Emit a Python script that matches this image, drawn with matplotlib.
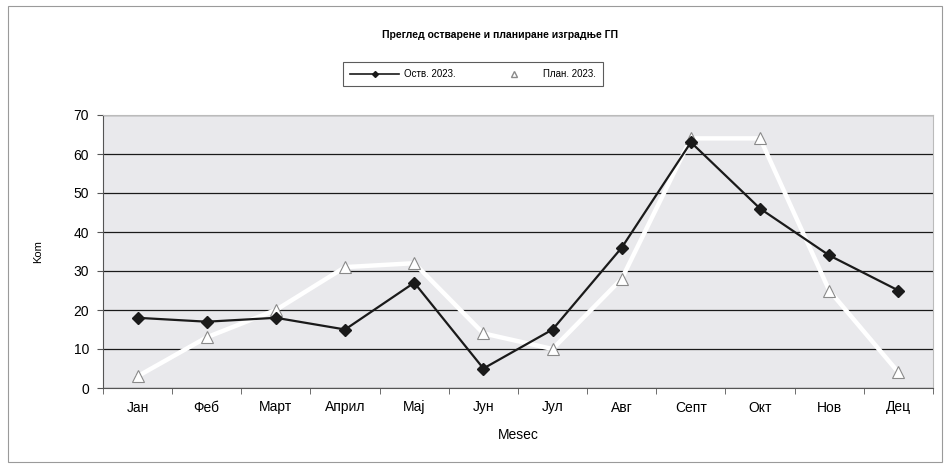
import matplotlib
matplotlib.use("Agg")
import matplotlib.pyplot as plt
from matplotlib.lines import Line2D
from matplotlib.patches import Rectangle

plt.rcParams['font.family'] = ['Liberation Sans', 'DejaVu Sans']

months = ["Јан", "Феб", "Март", "Април", "Мај", "Јун", "Јул", "Авг", "Септ", "Окт", "Нов", "Дец"]
actual_2023 = [18, 17, 18, 15, 27, 5, 15, 36, 63, 46, 34, 25]
plan_2023 = [3, 13, 20, 31, 32, 14, 10, 28, 64, 64, 25, 4]

fig = plt.figure(figsize=(9.45, 4.68), dpi=100)
fig.patches.append(Rectangle((8 / 945, 6 / 468), 934 / 945, 456 / 468, transform=fig.transFigure,
                             fill=False, edgecolor="#9a9a9a", linewidth=0.8))

ax = fig.add_axes([103 / 945, 80 / 468, 830 / 945, 273 / 468])
ax.set_facecolor("#e9e9ec")
x = list(range(len(months)))

ax.plot(x, plan_2023, color="white", linewidth=3.2, marker="^", markersize=9,
        markerfacecolor="white", markeredgecolor="#8a8a8a", markeredgewidth=0.8, zorder=3)
ax.plot(x, actual_2023, color="#1a1a1a", linewidth=1.6, marker="D", markersize=6.5,
        markerfacecolor="#1a1a1a", markeredgecolor="#1a1a1a", zorder=4)

ax.set_xlim(-0.5, len(months) - 0.5)
ax.set_ylim(0, 70)
ax.set_yticks(range(0, 71, 10))
ax.yaxis.grid(True, color="#1a1a1a", linewidth=0.9)
ax.set_axisbelow(True)

ax.set_xticks(x)
ax.set_xticklabels(months, fontsize=10)
ax.set_xticks([i - 0.5 for i in range(len(months) + 1)], minor=True)
ax.tick_params(axis="x", which="major", length=0, pad=9)
ax.tick_params(axis="x", which="minor", length=4, direction="out", color="#555555")
ax.tick_params(axis="y", length=4, labelsize=10, color="#555555", pad=6)

for side in ["top", "right"]:
    ax.spines[side].set_color("#bbbbbb")
    ax.spines[side].set_linewidth(0.8)
ax.spines["left"].set_color("#555555")
ax.spines["bottom"].set_color("#555555")

ax.set_xlabel("Mesec", fontsize=10, labelpad=10)
ax.set_ylabel("Kom", fontsize=8, labelpad=22)

fig.text(500 / 945, 1 - 35 / 468, "Преглед остварене и планиране изградње ГП",
         ha="center", va="center", fontsize=7.5, fontweight="bold")

handles = [
    Line2D([], [], color="#1a1a1a", linewidth=1.2, marker="D", markersize=3),
    Line2D([], [], color="white", linewidth=2, marker="^", markersize=4,
           markerfacecolor="white", markeredgecolor="#8a8a8a"),
]
leg = fig.legend(handles, ["Оств. 2023.", "План. 2023."], loc="center",
                 bbox_to_anchor=(473 / 945, 1 - 74 / 468), ncol=2, fontsize=7,
                 frameon=True, fancybox=False, columnspacing=3.5, handlelength=5,
                 borderpad=0.7, handletextpad=0.5)
leg.get_frame().set_edgecolor("#333333")
leg.get_frame().set_linewidth(0.8)

fig.savefig("out.png", dpi=100)
